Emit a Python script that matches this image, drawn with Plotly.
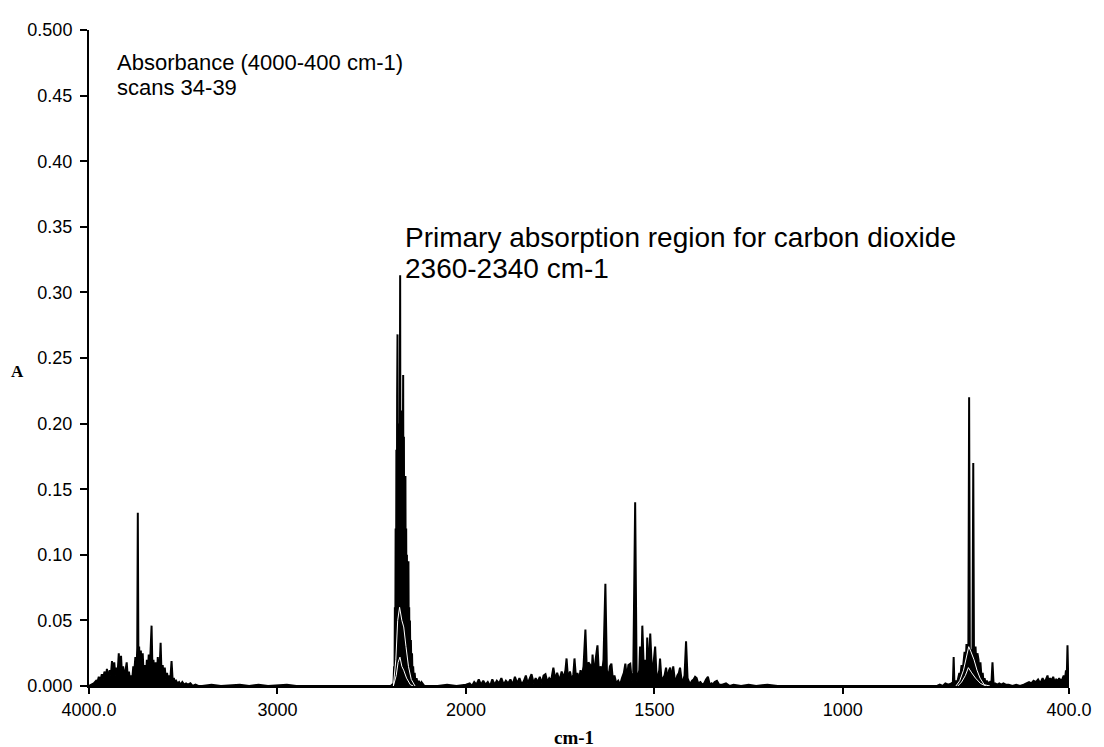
import plotly.graph_objects as go

# ---- data (wavenumber in cm-1, absorbance) ----
wn_oh = [4000, 3990, 3975, 3962, 3955, 3948, 3940, 3932, 3925, 3918, 3910, 3905, 3898, 3890, 3884, 3878,
         3872, 3866, 3860, 3854, 3848, 3842, 3836, 3830, 3825, 3819, 3812, 3806, 3800, 3794, 3788, 3782,
         3776, 3770, 3765, 3760, 3754, 3748, 3744, 3741, 3738, 3734, 3730, 3725, 3720, 3715, 3710, 3704,
         3698, 3693, 3688, 3683, 3678, 3673, 3668, 3663, 3658, 3652, 3646, 3640, 3635, 3630, 3625, 3620,
         3615, 3609, 3603, 3598, 3592, 3586, 3580, 3574, 3568, 3562, 3556, 3550, 3544, 3538, 3530, 3522,
         3514, 3505, 3495, 3485, 3475, 3462, 3450, 3435, 3420, 3400, 3350, 3300, 3200, 3150, 3100, 3050,
         2950, 2900, 2700, 2500, 2400]
a_oh = [0.0, 0.001, 0.002, 0.004, 0.003, 0.007, 0.004, 0.009, 0.005, 0.011, 0.006, 0.013, 0.007, 0.012, 0.008, 0.019,
        0.009, 0.018, 0.008, 0.014, 0.010, 0.025, 0.009, 0.023, 0.008, 0.015, 0.007, 0.012, 0.018, 0.006, 0.011, 0.004,
        0.008, 0.006, 0.015, 0.010, 0.022, 0.012, 0.029, 0.132, 0.024, 0.030, 0.014, 0.027, 0.012, 0.025, 0.008, 0.016,
        0.006, 0.020, 0.010, 0.024, 0.012, 0.028, 0.046, 0.010, 0.020, 0.008, 0.018, 0.006, 0.022, 0.010, 0.015, 0.033,
        0.008, 0.016, 0.006, 0.014, 0.005, 0.010, 0.004, 0.008, 0.006, 0.019, 0.004, 0.006, 0.003, 0.004, 0.002, 0.003,
        0.001, 0.003, 0.001, 0.002, 0.001, 0.002, 0.0, 0.001, 0.0, 0.0, 0.001, 0.0, 0.001, 0.0, 0.001, 0.0,
        0.001, 0.0, 0.0, 0.0, 0.0]

wn_co2 = [2390, 2384, 2381, 2379, 2377, 2375, 2373, 2371, 2369, 2367, 2365, 2363, 2361, 2359, 2357, 2355,
          2353, 2351, 2349, 2347, 2345, 2343, 2341, 2339, 2337, 2335, 2333, 2331, 2329, 2327, 2325, 2323,
          2321, 2319, 2317, 2315, 2313, 2311, 2309, 2307, 2305, 2303, 2301, 2299, 2297, 2295, 2292, 2289,
          2286, 2283, 2280, 2276, 2272, 2268, 2262, 2256, 2250, 2244, 2236, 2228, 2220, 2150, 2100, 2050]
a_co2 = [0.001, 0.002, 0.015, 0.005, 0.06, 0.02, 0.12, 0.04, 0.18, 0.07, 0.22, 0.268, 0.10, 0.20, 0.08, 0.17,
         0.05, 0.25, 0.313, 0.06, 0.20, 0.10, 0.21, 0.05, 0.17, 0.08, 0.237, 0.06, 0.19, 0.04, 0.15, 0.05,
         0.16, 0.03, 0.12, 0.04, 0.10, 0.02, 0.09, 0.03, 0.095, 0.02, 0.06, 0.01, 0.05, 0.02, 0.035, 0.01,
         0.025, 0.005, 0.015, 0.004, 0.01, 0.003, 0.006, 0.002, 0.004, 0.001, 0.003, 0.001, 0.0, 0.0, 0.001, 0.0]

wn_mid = [2000, 1990, 1984, 1978, 1972, 1966, 1960, 1954, 1948, 1942, 1936, 1930, 1924, 1918, 1912, 1906,
          1900, 1894, 1888, 1882, 1876, 1870, 1864, 1858, 1852, 1846, 1841, 1836, 1831, 1826, 1820, 1815,
          1810, 1804, 1799, 1794, 1789, 1784, 1779, 1774, 1768, 1763, 1758, 1752, 1746, 1741, 1736, 1733,
          1729, 1724, 1719, 1715, 1712, 1708, 1704, 1700, 1696, 1692, 1688, 1683, 1679, 1675, 1670, 1667,
          1664, 1660, 1656, 1651, 1647, 1643, 1639, 1635, 1630, 1626, 1622, 1618, 1614, 1610, 1606, 1601,
          1596, 1591, 1586, 1581, 1577, 1573, 1569, 1564, 1560, 1556, 1551, 1547, 1543, 1540, 1538, 1535,
          1532, 1528, 1524, 1521, 1519, 1515, 1511, 1508, 1506, 1502, 1498, 1494, 1490, 1487, 1485, 1481,
          1477, 1473, 1469, 1465, 1461, 1458, 1454, 1450, 1446, 1443, 1439, 1435, 1432, 1428, 1424, 1420,
          1416, 1412, 1408, 1404, 1400, 1396, 1392, 1388, 1384, 1378, 1373, 1368, 1363, 1358, 1353, 1348,
          1345, 1340, 1334, 1328, 1320, 1310, 1300, 1290, 1270, 1250, 1230, 1200, 1173, 1100, 1000, 900,
          800, 760]
a_mid = [0.001, 0.002, 0.000, 0.003, 0.001, 0.005, 0.001, 0.004, 0.001, 0.003, 0.000, 0.005, 0.001, 0.004, 0.002, 0.006,
         0.001, 0.004, 0.002, 0.005, 0.001, 0.007, 0.002, 0.006, 0.001, 0.004, 0.008, 0.002, 0.006, 0.009, 0.002, 0.006,
         0.003, 0.007, 0.002, 0.008, 0.009, 0.003, 0.006, 0.004, 0.014, 0.005, 0.010, 0.004, 0.011, 0.006, 0.012, 0.021,
         0.005, 0.011, 0.004, 0.009, 0.021, 0.006, 0.010, 0.004, 0.012, 0.008, 0.015, 0.043, 0.010, 0.018, 0.016, 0.006,
         0.024, 0.008, 0.020, 0.031, 0.008, 0.015, 0.010, 0.020, 0.078, 0.012, 0.006, 0.015, 0.017, 0.004, 0.008, 0.002,
         0.004, 0.001, 0.006, 0.010, 0.017, 0.006, 0.016, 0.017, 0.004, 0.010, 0.140, 0.004, 0.008, 0.012, 0.030, 0.008,
         0.046, 0.012, 0.020, 0.006, 0.037, 0.010, 0.040, 0.012, 0.008, 0.018, 0.030, 0.006, 0.008, 0.012, 0.021, 0.004,
         0.006, 0.008, 0.014, 0.005, 0.012, 0.014, 0.006, 0.015, 0.005, 0.004, 0.008, 0.010, 0.014, 0.005, 0.004, 0.008,
         0.034, 0.006, 0.003, 0.002, 0.004, 0.005, 0.007, 0.006, 0.002, 0.003, 0.001, 0.002, 0.005, 0.007, 0.001, 0.002,
         0.001, 0.003, 0.004, 0.001, 0.001, 0.002, 0.000, 0.001, 0.000, 0.001, 0.000, 0.001, 0.000, 0.0, 0.0, 0.0,
         0.0, 0.0]

wn_low = [750, 743, 735, 728, 720, 712, 708, 706, 704, 700, 697, 694, 691, 688, 685, 682,
          680, 677, 674, 672, 669, 667, 665, 663, 661, 659, 656, 654, 652, 650, 648, 645,
          643, 640, 638, 635, 632, 629, 627, 624, 621, 618, 614, 610, 606, 603, 600, 596,
          590, 585, 580, 574, 568, 560, 550, 540, 530, 520, 512, 506, 500, 494, 488, 482,
          476, 470, 466, 461, 457, 454, 450, 446, 442, 438, 434, 430, 426, 422, 418, 414,
          411, 408, 406, 404, 402, 400, 398]
a_low = [0.0, 0.001, 0.0, 0.002, 0.001, 0.002, 0.003, 0.022, 0.002, 0.004, 0.002, 0.006, 0.010, 0.008, 0.016, 0.012,
         0.020, 0.026, 0.018, 0.032, 0.012, 0.030, 0.220, 0.015, 0.028, 0.010, 0.030, 0.170, 0.012, 0.028, 0.030, 0.010,
         0.025, 0.020, 0.008, 0.018, 0.006, 0.010, 0.004, 0.006, 0.002, 0.004, 0.002, 0.003, 0.001, 0.018, 0.001, 0.002,
         0.001, 0.002, 0.001, 0.002, 0.001, 0.001, 0.000, 0.001, 0.000, 0.001, 0.002, 0.003, 0.002, 0.004, 0.003, 0.005,
         0.002, 0.006, 0.003, 0.005, 0.008, 0.003, 0.006, 0.004, 0.007, 0.003, 0.005, 0.004, 0.006, 0.004, 0.005, 0.008,
         0.004, 0.012, 0.006, 0.031, 0.005, 0.008, 0.003]

# lower scans overlaid (scans 34-39)
wn_scan_b = [2385, 2372, 2362, 2352, 2340, 2330, 2318, 2305, 2290, 2270, None,
             700, 690, 680, 672, 666, 660, 652, 644, 636, 625, 610]
a_scan_b = [0.0, 0.02, 0.05, 0.06, 0.05, 0.045, 0.03, 0.015, 0.005, 0.0, None,
            0.0, 0.004, 0.012, 0.022, 0.030, 0.026, 0.020, 0.012, 0.006, 0.001, 0.0]
wn_scan_c = [2385, 2370, 2360, 2350, 2340, 2330, 2315, 2295, 2280, None,
             695, 685, 675, 667, 658, 648, 635, 620]
a_scan_c = [0.0, 0.008, 0.018, 0.022, 0.015, 0.012, 0.006, 0.001, 0.0, None,
            0.0, 0.003, 0.008, 0.014, 0.010, 0.006, 0.002, 0.0]

x_tick_labels = ["4000.0", "3000", "2000", "1500", "1000", "400.0"]
x_tick_wn = [4000, 3000, 2000, 1500, 1000, 400]
y_tick_vals = [0.0, 0.05, 0.10, 0.15, 0.20, 0.25, 0.30, 0.35, 0.40, 0.45, 0.50]
y_tick_labels = ["0.000", "0.05", "0.10", "0.15", "0.20", "0.25", "0.30", "0.35", "0.40", "0.45", "0.500"]


# instrument display: scale above 2000 cm-1 is compressed 2x
def to_axis(w):
    if w is None:
        return None
    return w if w <= 2000 else 2000 + (w - 2000) / 2.0


wn_all = wn_oh + wn_co2 + wn_mid + wn_low
a_all = a_oh + a_co2 + a_mid + a_low

fig = go.Figure()
fig.add_trace(go.Scatter(x=[to_axis(w) for w in wn_all], y=a_all, mode="lines",
                         line=dict(color="black", width=2), fill="tozeroy", fillcolor="black"))
fig.add_trace(go.Scatter(x=[to_axis(w) for w in wn_scan_b], y=a_scan_b, mode="lines",
                         line=dict(color="white", width=1), hoverinfo="skip"))
fig.add_trace(go.Scatter(x=[to_axis(w) for w in wn_scan_c], y=a_scan_c, mode="lines",
                         line=dict(color="white", width=1), hoverinfo="skip"))

tick_font = dict(family="Liberation Sans, Arial, sans-serif", size=18, color="black")
fig.update_layout(
    width=1104, height=747,
    margin=dict(l=89, r=30, t=30, b=61),
    paper_bgcolor="white", plot_bgcolor="white",
    showlegend=False,
    xaxis=dict(range=[3000, 400], showgrid=False, zeroline=False, showline=True,
               linecolor="black", linewidth=2, ticks="outside", ticklen=6, tickwidth=2,
               tickcolor="black", tickvals=[to_axis(w) for w in x_tick_wn], ticktext=x_tick_labels,
               tickfont=tick_font),
    yaxis=dict(range=[0, 0.5], showgrid=False, zeroline=False, showline=True,
               linecolor="black", linewidth=2, ticks="outside", ticklen=7, tickwidth=2,
               tickcolor="black", tickvals=y_tick_vals, ticktext=y_tick_labels,
               tickfont=tick_font, ticklabelstandoff=4),
)

serif_a = dict(family="Liberation Serif, Times New Roman, serif", size=17, color="black")
serif_cm = dict(family="Liberation Serif, Times New Roman, serif", size=19, color="black")
sans_small = dict(family="Liberation Sans, Arial, sans-serif", size=22, color="black")
sans_big = dict(family="Liberation Sans, Arial, sans-serif", size=28, color="black")
annots = [
    dict(text="<b>A</b>", x=-0.073, y=0.479, font=serif_a, xanchor="center", yanchor="middle"),
    dict(text="<b>cm-1</b>", x=0.495, y=-0.079, font=serif_cm, xanchor="center", yanchor="middle"),
    dict(text="Absorbance (4000-400 cm-1)", x=0.0264, y=0.951, font=sans_small, xanchor="left", yanchor="middle"),
    dict(text="scans 34-39", x=0.0264, y=0.9116, font=sans_small, xanchor="left", yanchor="middle"),
    dict(text="Primary absorption region for carbon dioxide", x=0.3208, y=0.683, font=sans_big,
         xanchor="left", yanchor="middle"),
    dict(text="2360-2340 cm-1", x=0.3208, y=0.637, font=sans_big, xanchor="left", yanchor="middle"),
]
for a in annots:
    fig.add_annotation(xref="paper", yref="paper", showarrow=False, **a)

fig.write_html("out.html")
